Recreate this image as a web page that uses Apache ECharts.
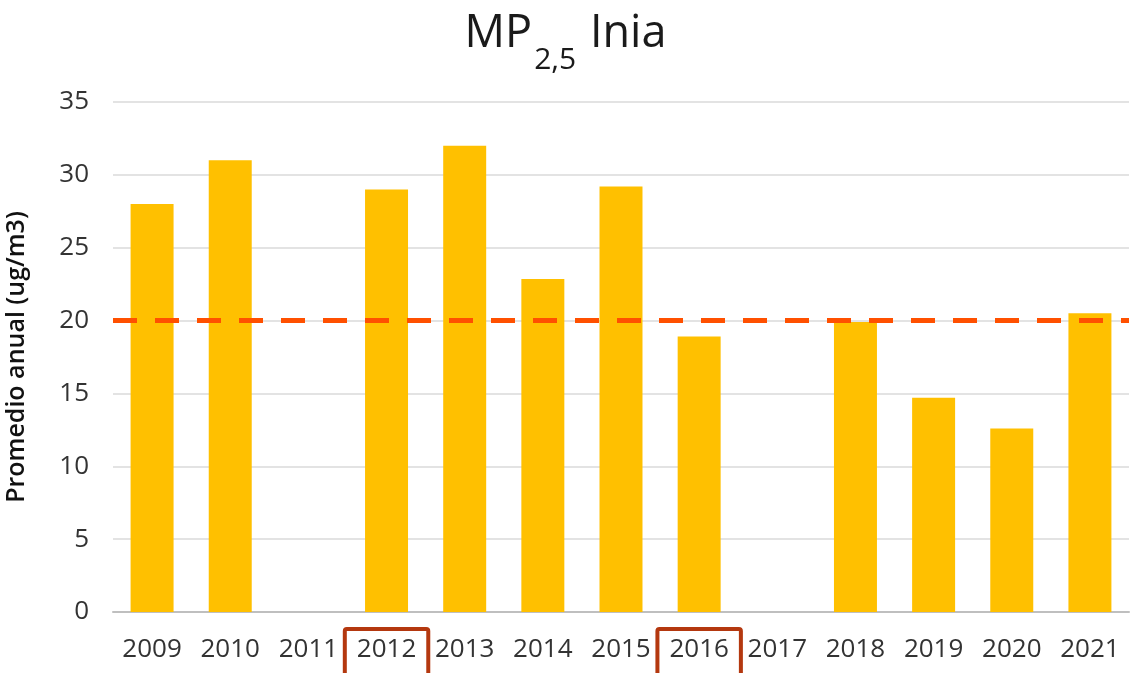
<!DOCTYPE html>
<html>
<head>
<meta charset="utf-8">
<script src="https://cdn.jsdelivr.net/npm/echarts@6/dist/echarts.min.js"></script>
<style>
  html, body { margin: 0; padding: 0; background: #fff; }
  #chart-container { width: 1131px; height: 673px; }
</style>
</head>
<body>
<div id="chart-container"></div>
<script>
var dom = document.getElementById('chart-container');
var myChart = echarts.init(dom, null, { renderer: 'canvas' });

// data
var years = ['2009', '2010', '2011', '2012', '2013', '2014', '2015', '2016', '2017', '2018', '2019', '2020', '2021'];
var promedio = [28.0, 31.0, null, 29.0, 32.0, 22.85, 29.2, 18.9, null, 19.9, 14.7, 12.6, 20.5];
var norma = 20;
var marcados = ['2012', '2016'];
var yTicks = [0, 5, 10, 15, 20, 25, 30, 35];

var font = '"Open Sans", "Noto Sans", sans-serif';

var option = {
  animation: false,
  backgroundColor: '#fff',
  title: {
    text: '{a|MP}{s|2,5}{a| Inia}',
    left: 'center',
    top: -8,
    textStyle: {
      rich: {
        a: { fontFamily: font, fontSize: 45, color: '#1a1a1a', fontWeight: 'normal', verticalAlign: 'bottom', lineHeight: 60 },
        s: { fontFamily: font, fontSize: 30, color: '#1a1a1a', fontWeight: 'normal', verticalAlign: 'bottom', lineHeight: 60, padding: [0, 2, -18, 2] }
      }
    }
  },
  grid: { left: 113, right: 2, top: 102, bottom: 61, containLabel: false, outerBoundsMode: 'none' },
  xAxis: {
    type: 'category',
    data: years,
    axisTick: { show: false },
    axisLine: { lineStyle: { color: '#BFBFBF', width: 2 } },
    axisLabel: {
      margin: 17,
      interval: 0,
      formatter: function (v) {
        return marcados.indexOf(v) >= 0 ? '{b|' + v + '}' : '{n|' + v + '}';
      },
      rich: {
        n: { fontFamily: font, fontSize: 26, color: '#333', padding: [8, 12, 22, 12] },
        b: { fontFamily: font, fontSize: 26, color: '#333', padding: [8, 12, 22, 12], borderColor: '#B4380F', borderWidth: 4, borderRadius: 2 }
      }
    }
  },
  yAxis: {
    type: 'value',
    min: yTicks[0],
    max: yTicks[yTicks.length - 1],
    interval: 5,
    name: 'Promedio anual (ug/m3)',
    nameLocation: 'middle',
    nameRotate: 90,
    nameGap: 84,
    nameTextStyle: { fontFamily: font, fontSize: 25, color: '#111', fontWeight: 600 },
    axisLine: { show: false },
    axisTick: { show: false },
    axisLabel: { fontFamily: font, fontSize: 26, color: '#333', margin: 24 },
    splitLine: { lineStyle: { color: '#E3E3E3', width: 2 } }
  },
  series: [
    {
      type: 'bar',
      data: promedio,
      barWidth: '55%',
      itemStyle: { color: '#FFC000' },
      markLine: {
        silent: true,
        symbol: 'none',
        label: { show: false },
        lineStyle: { color: '#FF5000', type: [24, 18], width: 5 },
        data: [{ yAxis: norma }]
      }
    }
  ]
};

myChart.setOption(option);
window.addEventListener('resize', myChart.resize);
</script>
</body>
</html>
